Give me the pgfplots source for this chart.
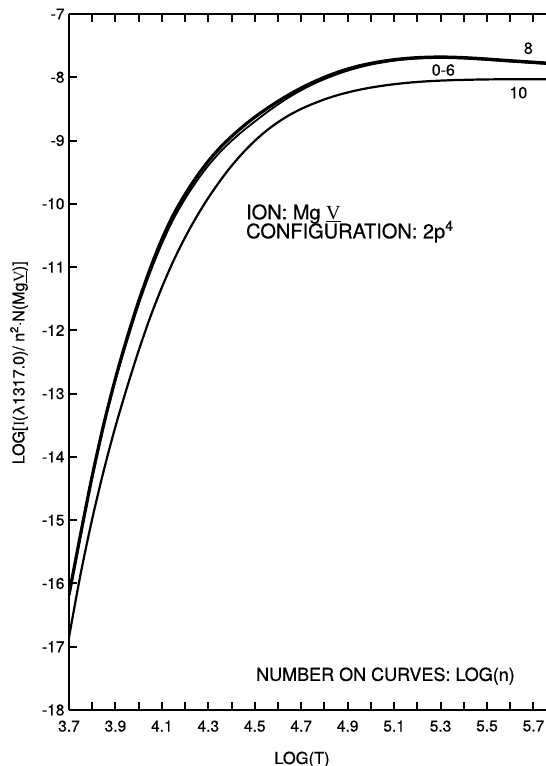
\documentclass[border=0pt]{standalone}
\usepackage{fontspec}
\setmainfont{TeX Gyre Heros}[FakeBold=0.6]
\newfontfamily\romanI{Liberation Serif}
\usepackage{pgfplots}
\pgfplotsset{compat=1.18}

% emissivity curves, one table per log(n)
\pgfplotstableread{
T      v
3.70  -16.18
3.75  -15.22
3.80  -14.30
3.85  -13.48
3.90  -12.76
3.95  -12.12
4.00  -11.54
4.05  -11.02
4.10  -10.56
4.15  -10.17
4.20  -9.85
4.25  -9.57
4.30  -9.325
4.35  -9.115
4.40  -8.935
4.45  -8.775
4.50  -8.63
4.55  -8.50
4.60  -8.38
4.65  -8.27
4.70  -8.17
4.75  -8.08
4.80  -8.00
4.85  -7.93
4.90  -7.87
4.95  -7.82
5.00  -7.78
5.05  -7.748
5.10  -7.722
5.15  -7.703
5.20  -7.69
5.25  -7.683
5.30  -7.68
5.35  -7.683
5.40  -7.69
5.45  -7.70
5.50  -7.712
5.55  -7.725
5.60  -7.738
5.65  -7.75
5.70  -7.762
5.754 -7.775
}\curvezerosix

\pgfplotstableread{
T      v
3.70  -16.21
3.75  -15.25
3.80  -14.33
3.85  -13.51
3.90  -12.79
3.95  -12.17
4.00  -11.59
4.05  -11.08
4.10  -10.63
4.15  -10.24
4.20  -9.92
4.25  -9.64
4.30  -9.395
4.35  -9.185
4.40  -9.005
4.45  -8.845
4.50  -8.70
4.55  -8.56
4.60  -8.43
4.65  -8.31
4.70  -8.205
4.75  -8.11
4.80  -8.03
4.85  -7.958
4.90  -7.896
4.95  -7.844
5.00  -7.80
5.05  -7.766
5.10  -7.738
5.15  -7.718
5.20  -7.705
5.25  -7.698
5.30  -7.695
5.35  -7.698
5.40  -7.705
5.45  -7.715
5.50  -7.727
5.55  -7.74
5.60  -7.753
5.65  -7.765
5.70  -7.777
5.754 -7.79
}\curveeight

\pgfplotstableread{
T      v
3.70  -16.85
3.75  -15.85
3.80  -14.98
3.85  -14.21
3.90  -13.52
3.95  -12.90
4.00  -12.32
4.05  -11.79
4.10  -11.32
4.15  -10.90
4.20  -10.53
4.25  -10.20
4.30  -9.905
4.35  -9.64
4.40  -9.40
4.45  -9.19
4.50  -9.005
4.55  -8.845
4.60  -8.71
4.65  -8.595
4.70  -8.50
4.75  -8.42
4.80  -8.35
4.85  -8.29
4.90  -8.24
4.95  -8.198
5.00  -8.163
5.05  -8.134
5.10  -8.11
5.15  -8.09
5.20  -8.074
5.25  -8.062
5.30  -8.053
5.35  -8.046
5.40  -8.041
5.45  -8.037
5.50  -8.034
5.60  -8.031
5.754 -8.03
}\curveten

\begin{document}
\begin{tikzpicture}[x=1pt,y=1pt]
\useasboundingbox (-69,-56) rectangle (477,710);
\begin{axis}[
    at={(0,0)}, anchor=south west,
    scale only axis,
    width=477pt, height=696pt,
    xmin=3.7, xmax=5.754,
    ymin=-18, ymax=-7,
    axis x line*=box,
    axis y line*=left,
    axis line style={line width=2.2pt, black},
    tick align=inside,
    major tick length=8pt,
    minor tick length=8pt,
    every tick/.style={line width=2pt, black},
    xtick={3.7,3.9,4.1,4.3,4.5,4.7,4.9,5.1,5.3,5.5,5.7},
    xticklabels={3.7,3.9,4.1,4.3,4.5,4.7,4.9,5.1,5.3,5.5,5.7},
    minor xtick={3.8,4.0,4.2,4.4,4.6,4.8,5.0,5.2,5.4,5.6},
    ytick={-18,-17,-16,-15,-14,-13,-12,-11,-10,-9,-8,-7},
    yticklabels={-18,-17,-16,-15,-14,-13,-12,-11,-10,-9,-8,-7},
    ticklabel style={font=\fontsize{15.5}{17}\selectfont},
    xticklabel style={yshift=-7pt},
    yticklabel style={xshift=-1pt},
    xlabel={LOG(T)},
    xlabel style={at={(axis description cs:0.4885,-0.0775)}, anchor=base,
        font=\fontsize{16.5}{18}\selectfont},
    ylabel={LOG[{\romanI I}(λ1317.0)/ n\textsuperscript{2}·N(Mg{\romanI\underline{V}})]},
    ylabel style={at={(axis description cs:-0.1048,0.499)}, anchor=center,
        font=\fontsize{16}{18}\selectfont},
]
\addplot[black, line width=3.2pt, smooth] table[x=T, y=v] {\curvezerosix};
\addplot[black, line width=1.8pt, smooth] table[x=T, y=v] {\curveeight};
\addplot[black, line width=2.2pt, smooth] table[x=T, y=v] {\curveten};

\node[font=\fontsize{16}{18}\selectfont] at (axis cs:5.678,-7.542) {8};
\node[font=\fontsize{16}{18}\selectfont] at (axis cs:5.312,-7.885) {0-6};
\node[font=\fontsize{16}{18}\selectfont] at (axis cs:5.635,-8.244) {10};

\node[anchor=base west, font=\fontsize{20}{22}\selectfont, inner sep=0pt]
    at (axis cs:4.462,-10.245) {ION: Mg {\romanI\underline{V}}};
\node[anchor=base west, font=\fontsize{20}{22}\selectfont, inner sep=0pt]
    at (axis cs:4.462,-10.545) {CONFIGURATION: 2p\textsuperscript{4}};
\node[anchor=base west, font=\fontsize{18}{20}\selectfont, inner sep=0pt]
    at (axis cs:4.505,-17.54) {NUMBER ON CURVES: LOG(n)};
\end{axis}
\end{tikzpicture}
\end{document}
